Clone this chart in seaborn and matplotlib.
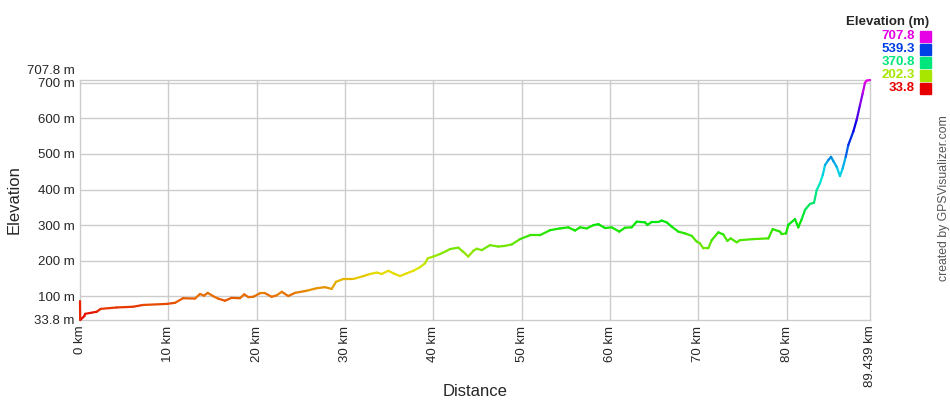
import numpy as np
import pandas as pd
import seaborn as sns
import matplotlib
matplotlib.use("Agg")
import matplotlib.pyplot as plt
import matplotlib.colors as mcolors
import matplotlib.transforms as mtransforms
from matplotlib.patches import Rectangle

# profile (km, m)
distance_km = [0.0, 0.02, 0.5, 0.57, 1.89, 2.34, 4.15, 6.00, 7.13, 9.82, 10.76, 11.66,
               13.02, 13.59, 14.04, 14.46, 15.06, 15.62, 16.42, 17.17, 18.11, 18.60,
               19.05, 19.62, 20.38, 20.95, 21.70, 22.27, 22.84, 23.58, 24.34, 25.67,
               26.80, 27.74, 28.50, 28.98, 29.81, 30.94, 32.07, 32.83, 33.59, 34.16,
               34.91, 35.47, 36.23, 36.99, 37.74, 38.49, 39.06, 39.37, 40.00, 40.76,
               41.52, 41.89, 42.83, 43.40, 43.96, 44.53, 44.91, 45.48, 46.42, 47.36,
               48.12, 48.88, 49.82, 50.95, 52.08, 53.21, 54.34, 55.28, 56.04, 56.61,
               57.37, 58.11, 58.68, 59.44, 60.20, 61.06, 61.70, 62.46, 63.03, 63.97,
               64.23, 64.73, 65.47, 65.86, 66.42, 66.99, 67.74, 68.50, 69.26, 69.82,
               70.19, 70.57, 71.13, 71.52, 72.26, 72.83, 73.29, 73.67, 74.35, 74.72,
               76.23, 77.93, 78.42, 79.25, 79.44, 79.93, 80.19, 80.95, 81.32, 81.71,
               82.08, 82.65, 83.10, 83.41, 83.78, 84.09, 84.35, 84.72, 85.03, 85.29,
               85.67, 86.04, 86.35, 86.69, 86.98, 87.55, 87.93, 88.31, 88.61, 88.87,
               89.06, 89.439]
elevation_m = [87, 33.8, 45, 51, 57, 65, 69, 71, 76, 79, 82, 95,
               94, 107, 102, 110, 101, 94, 88, 96, 95, 106,
               98, 99, 109, 109, 99, 103, 113, 101, 110, 116,
               123, 126, 121, 141, 149, 149, 157, 163, 167, 163,
               172, 165, 157, 165, 172, 182, 193, 207, 212, 219,
               228, 233, 237, 225, 212, 228, 234, 230, 244, 240,
               242, 246, 261, 272, 272, 286, 291, 294, 285, 294,
               291, 300, 303, 292, 294, 282, 293, 294, 310, 308,
               301, 309, 309, 313, 308, 296, 282, 277, 270, 254,
               249, 235, 235, 258, 280, 274, 256, 263, 252, 258,
               261, 263, 289, 282, 275, 277, 301, 317, 294, 317,
               343, 360, 363, 399, 418, 441, 469, 483, 492, 480,
               464, 438, 460, 492, 525, 563, 596, 638, 670, 700,
               706, 707.8]

elev_min, elev_max = 33.8, 707.8
y_ticks = [100, 200, 300, 400, 500, 600, 700]
x_ticks = [0, 10, 20, 30, 40, 50, 60, 70, 80]
legend_values = [707.8, 539.3, 370.8, 202.3, 33.8]

sns.set_style("white")
plt.rcParams["font.family"] = ["Liberation Sans", "DejaVu Sans"]

# red -> magenta along the hue wheel, like the reference
hues = np.linspace(0, 300 / 360, 64)
spectrum = mcolors.ListedColormap([mcolors.hsv_to_rgb((h, 1.0, 0.9)) for h in hues])
norm = mcolors.Normalize(elev_min, elev_max)

# one two-point piece per segment so each gets its own colour
rows = []
for i in range(len(distance_km) - 1):
    mid = (elevation_m[i] + elevation_m[i + 1]) / 2
    for j in (i, i + 1):
        rows.append({"seg": i, "mid": mid, "km": distance_km[j], "elev": elevation_m[j]})
df = pd.DataFrame(rows)

fig = plt.figure(figsize=(9.5, 4), dpi=100)
ax = fig.add_axes([80 / 950, 80 / 400, 790 / 950, 240 / 400])

sns.lineplot(data=df, x="km", y="elev", hue="mid", units="seg", estimator=None,
             sort=False, palette=spectrum, hue_norm=norm, legend=False,
             lw=1.6, solid_capstyle="round", ax=ax)
for ln in ax.lines:
    ln.set_clip_on(False)

ax.set_xlim(0, 89.439)
ax.set_ylim(elev_min, elev_max)

grid_c = "#cccccc"
for v in y_ticks:
    ax.axhline(v, color=grid_c, lw=1, zorder=0)
for v in x_ticks[1:]:
    ax.axvline(v, color=grid_c, lw=1, zorder=0)
for s in ax.spines.values():
    s.set_color(grid_c)
    s.set_linewidth(1)
    s.set_zorder(0)

yt = [elev_min] + y_ticks + [elev_max]
ax.set_yticks(yt)
ax.set_yticklabels([f"{v:g} m" for v in yt], fontsize=9.5)
xt = x_ticks + [89.439]
ax.set_xticks(xt)
ax.set_xticklabels([f"{v:g} km" for v in xt], fontsize=9.5, rotation=90)
ax.tick_params(length=0, pad=4)
# top label sits just above the 700 m one
lab = ax.get_yticklabels()[-1]
lab.set_transform(lab.get_transform() + mtransforms.ScaledTranslation(0, 10 / 100, fig.dpi_scale_trans))

ax.set_xlabel("Distance", fontsize=12)
ax.set_ylabel("Elevation", fontsize=12)
ax.xaxis.set_label_coords(0.5, -0.265)
ax.yaxis.set_label_coords(-0.074, 0.5)

# elevation legend at top right
fig.text(929 / 950, 1 - 22 / 400, "Elevation (m)", ha="right", va="center",
         fontsize=9.5, fontweight="bold")
for k, v in enumerate(legend_values):
    yc = 36 + k * 13
    col = spectrum(norm(v))
    fig.text(915 / 950, 1 - yc / 400, f"{v:g}", ha="right", va="center",
             fontsize=9.5, fontweight="bold", color=col)
    fig.patches.append(Rectangle((920 / 950, 1 - (yc + 5.5) / 400), 11 / 950, 11 / 400,
                                 transform=fig.transFigure, color=col))

fig.text(944 / 950, 1 - 198 / 400, "created by GPSVisualizer.com", rotation=90,
         ha="center", va="center", fontsize=8.8, color="#555555")

fig.savefig("out.png", dpi=100)
